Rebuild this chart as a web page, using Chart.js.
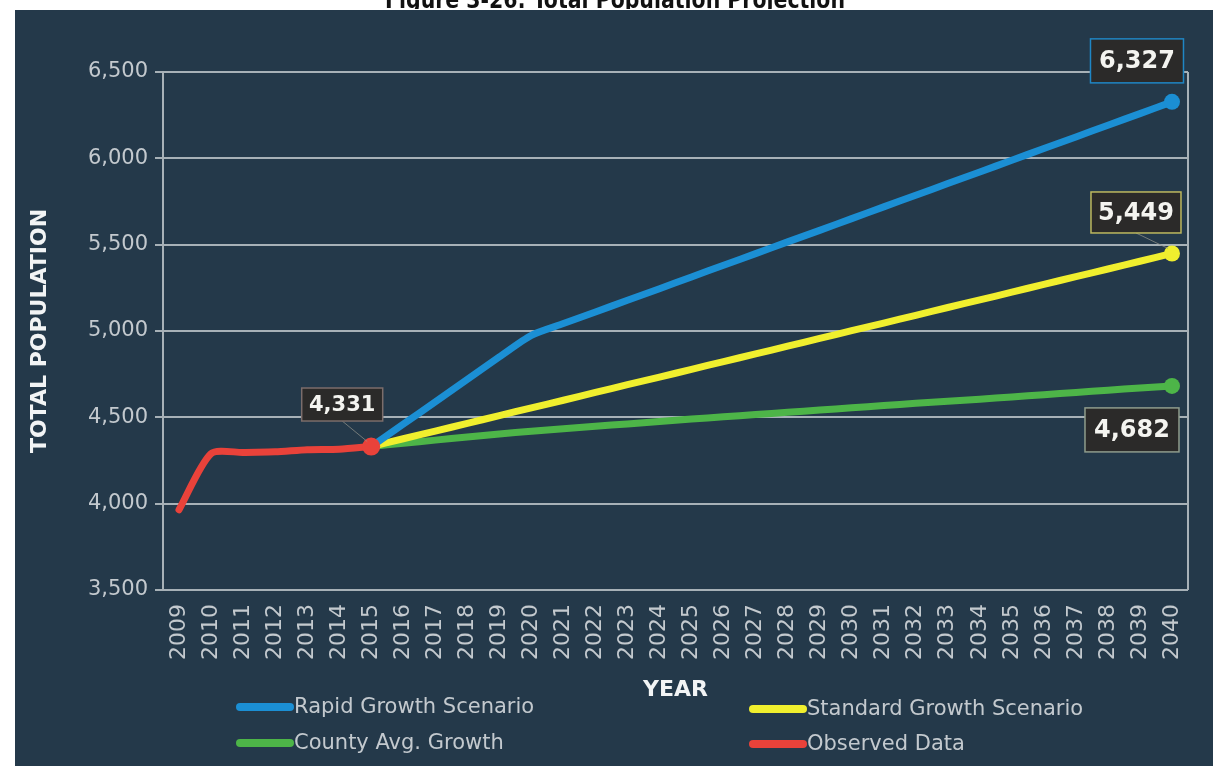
<!DOCTYPE html>
<html>
<head>
<meta charset="utf-8">
<title>Total Population Projection</title>
<script src="https://cdn.jsdelivr.net/npm/chart.js@4.4.1/dist/chart.umd.min.js"></script>
<style>
  html, body { margin: 0; padding: 0; background: #ffffff; }
  canvas { display: block; }
</style>
</head>
<body>
<canvas id="chart" width="1213" height="772"></canvas>
<script>
// Years on the horizontal axis
const years = ['2009','2010','2011','2012','2013','2014','2015','2016','2017','2018','2019','2020',
  '2021','2022','2023','2024','2025','2026','2027','2028','2029','2030','2031','2032',
  '2033','2034','2035','2036','2037','2038','2039','2040'];

// Observed population, 2009-2015
const observedData = [3965, 4290, 4297, 4300, 4312, 4315, 4331,
  null, null, null, null, null, null, null, null, null, null, null, null, null, null, null,
  null, null, null, null, null, null, null, null, null, null];

// Rapid growth scenario, 2015-2040
const rapidData = [null, null, null, null, null, null, 4331,
  4460, 4590, 4720, 4850, 4975, 5043, 5110, 5178, 5245, 5313, 5381, 5448, 5516, 5583,
  5651, 5719, 5786, 5854, 5921, 5989, 6057, 6124, 6192, 6259, 6327];

// Standard growth scenario, 2015-2040
const standardData = [null, null, null, null, null, null, 4331,
  4376, 4420, 4465, 4510, 4555, 4599, 4644, 4689, 4733, 4778, 4823, 4867, 4912, 4957,
  5002, 5046, 5091, 5136, 5180, 5225, 5270, 5315, 5359, 5404, 5449];

// County average growth, 2015-2040
const countyData = [null, null, null, null, null, null, 4331,
  4350, 4368, 4386, 4403, 4420, 4434, 4448, 4462, 4476, 4490, 4503, 4516, 4529, 4542,
  4555, 4568, 4581, 4593, 4605, 4618, 4631, 4644, 4657, 4670, 4682];

// Value axis ticks
const yTicks = [3500, 4000, 4500, 5000, 5500, 6000, 6500];

const seriesNames = ['Rapid Growth Scenario', 'Standard Growth Scenario', 'County Avg. Growth', 'Observed Data'];
const titleText = 'Figure 3-26: Total Population Projection';

const COLORS = {
  rapid: '#1b8fd4',
  standard: '#f0ef2e',
  county: '#4db548',
  observed: '#e9423a'
};
const PANEL = '#24394a';
const GRID = '#a7b1b7';
const TEXT = '#c3c9ce';

function markerAt(index, size) {
  return years.map((_, i) => (i === index ? size : 0));
}

const lineStyle = {
  borderWidth: 7,
  borderCapStyle: 'round',
  borderJoinStyle: 'round',
  tension: 0.25,
  spanGaps: false,
  pointBorderWidth: 0,
  pointHoverRadius: 0
};

const datasets = [
  Object.assign({
    label: seriesNames[3], data: observedData,
    borderColor: COLORS.observed, backgroundColor: COLORS.observed,
    pointRadius: markerAt(6, 9), key: 'observed'
  }, lineStyle),
  Object.assign({
    label: seriesNames[0], data: rapidData,
    borderColor: COLORS.rapid, backgroundColor: COLORS.rapid,
    pointRadius: markerAt(31, 8), key: 'rapid'
  }, lineStyle),
  Object.assign({
    label: seriesNames[1], data: standardData,
    borderColor: COLORS.standard, backgroundColor: COLORS.standard,
    pointRadius: markerAt(31, 8), key: 'standard'
  }, lineStyle),
  Object.assign({
    label: seriesNames[2], data: countyData,
    borderColor: COLORS.county, backgroundColor: COLORS.county,
    pointRadius: markerAt(31, 8), key: 'county'
  }, lineStyle)
];

// Callout boxes: which series/point, and where the box sits relative to the point
const callouts = [
  { key: 'rapid', index: 31, dx: -35, dy: -41, w: 93, h: 44, font: 24, stroke: '#1f86c4', leader: false },
  { key: 'standard', index: 31, dx: -36, dy: -41, w: 90, h: 41, font: 24, stroke: '#bdb85e', leader: true },
  { key: 'county', index: 31, dx: -40, dy: 44, w: 94, h: 44, font: 24, stroke: '#8f9c8c', leader: false },
  { key: 'observed', index: 6, dx: -29, dy: -42, w: 81, h: 33, font: 21, stroke: '#7b6d6b', leader: true }
];

const backgroundPlugin = {
  id: 'panelBackground',
  beforeDraw(chart) {
    const ctx = chart.ctx;
    ctx.save();
    ctx.fillStyle = '#ffffff';
    ctx.fillRect(0, 0, chart.width, chart.height);
    ctx.fillStyle = PANEL;
    ctx.fillRect(15, 10, chart.width - 15, 756);
    ctx.restore();
    // Figure caption above the panel (its upper part runs off the page)
    ctx.save();
    ctx.beginPath();
    ctx.rect(0, 0, chart.width, 9);
    ctx.clip();
    ctx.font = 'bold 24px "DejaVu Sans Condensed", "Liberation Sans Narrow", sans-serif';
    const tw = ctx.measureText(titleText).width;
    const target = 460;
    ctx.translate(385, 8);
    ctx.scale(target / tw, 1);
    ctx.fillStyle = '#111111';
    ctx.textBaseline = 'alphabetic';
    ctx.fillText(titleText, 0, 0);
    ctx.restore();
  },
  beforeDatasetsDraw(chart) {
    const { ctx, chartArea } = chart;
    ctx.save();
    ctx.strokeStyle = GRID;
    ctx.lineWidth = 2;
    ctx.beginPath();
    ctx.moveTo(chartArea.right, chartArea.top);
    ctx.lineTo(chartArea.right, chartArea.bottom);
    ctx.stroke();
    ctx.restore();
  }
};

const calloutPlugin = {
  id: 'callouts',
  afterDatasetsDraw(chart) {
    const { ctx } = chart;
    const xs = chart.scales.x, ys = chart.scales.y;
    ctx.save();
    callouts.forEach(c => {
      const ds = chart.data.datasets.find(d => d.key === c.key);
      const v = ds.data[c.index];
      const px = xs.getPixelForValue(c.index);
      const py = ys.getPixelForValue(v);
      const cx = px + c.dx, cy = py + c.dy;
      if (c.leader) {
        ctx.strokeStyle = 'rgba(150,150,140,0.7)';
        ctx.lineWidth = 1;
        ctx.beginPath();
        ctx.moveTo(cx, cy + c.h / 2);
        ctx.lineTo(px - 4, py - 5);
        ctx.stroke();
      }
      ctx.fillStyle = '#2b2a29';
      ctx.fillRect(cx - c.w / 2, cy - c.h / 2, c.w, c.h);
      ctx.strokeStyle = c.stroke;
      ctx.lineWidth = 1.5;
      ctx.strokeRect(cx - c.w / 2, cy - c.h / 2, c.w, c.h);
      ctx.fillStyle = '#f4f4f0';
      ctx.font = 'bold ' + c.font + 'px "DejaVu Sans", sans-serif';
      ctx.textAlign = 'center';
      ctx.textBaseline = 'middle';
      ctx.fillText(v.toLocaleString('en-US'), cx, cy + 1);
    });
    ctx.restore();
  }
};

// Two-column legend under the axis title
const legendPlugin = {
  id: 'twoColumnLegend',
  afterDraw(chart) {
    const { ctx } = chart;
    const layout = [
      { key: 'rapid', x: 240, y: 707 },
      { key: 'standard', x: 753, y: 709 },
      { key: 'county', x: 240, y: 743 },
      { key: 'observed', x: 753, y: 744 }
    ];
    ctx.save();
    layout.forEach(item => {
      const ds = chart.data.datasets.find(d => d.key === item.key);
      ctx.strokeStyle = ds.borderColor;
      ctx.lineWidth = 8;
      ctx.lineCap = 'round';
      ctx.beginPath();
      ctx.moveTo(item.x, item.y);
      ctx.lineTo(item.x + 50, item.y);
      ctx.stroke();
      ctx.fillStyle = TEXT;
      ctx.font = '21px "DejaVu Sans", sans-serif';
      ctx.textAlign = 'left';
      ctx.textBaseline = 'middle';
      ctx.fillText(ds.label, item.x + 54, item.y + 1);
    });
    ctx.restore();
  }
};

new Chart(document.getElementById('chart'), {
  type: 'line',
  data: { labels: years, datasets: datasets },
  plugins: [backgroundPlugin, calloutPlugin, legendPlugin],
  options: {
    responsive: false,
    animation: false,
    devicePixelRatio: 1,
    layout: { padding: { top: 72, right: 25, bottom: 0, left: 0 } },
    plugins: {
      legend: { display: false },
      tooltip: { enabled: false },
      title: { display: false }
    },
    scales: {
      x: {
        type: 'category',
        offset: true,
        grid: { display: false },
        border: { display: false },
        ticks: {
          autoSkip: false,
          minRotation: 90,
          maxRotation: 90,
          padding: 6,
          color: TEXT,
          font: { family: '"DejaVu Sans", sans-serif', size: 22 }
        },
        title: {
          display: true,
          text: 'YEAR',
          color: '#f2f4f5',
          font: { family: '"DejaVu Sans", sans-serif', size: 22, weight: 'bold' },
          padding: { top: 0, bottom: 69 }
        },
        afterFit(scale) { scale.height = 182; }
      },
      y: {
        min: 3500,
        max: 6500,
        afterBuildTicks(scale) { scale.ticks = yTicks.map(v => ({ value: v })); },
        grid: { color: GRID, lineWidth: 2, tickLength: 8, drawTicks: true },
        border: { display: true, color: GRID, width: 2 },
        ticks: {
          padding: 7,
          color: TEXT,
          font: { family: '"DejaVu Sans", sans-serif', size: 21 },
          callback: v => Number(v).toLocaleString('en-US')
        },
        title: {
          display: true,
          text: 'TOTAL POPULATION',
          color: '#f2f4f5',
          font: { family: '"DejaVu Sans", sans-serif', size: 22, weight: 'bold' },
          padding: { top: 27, bottom: 0 }
        },
        afterFit(scale) { scale.width = 163; }
      }
    }
  }
});
</script>
</body>
</html>
